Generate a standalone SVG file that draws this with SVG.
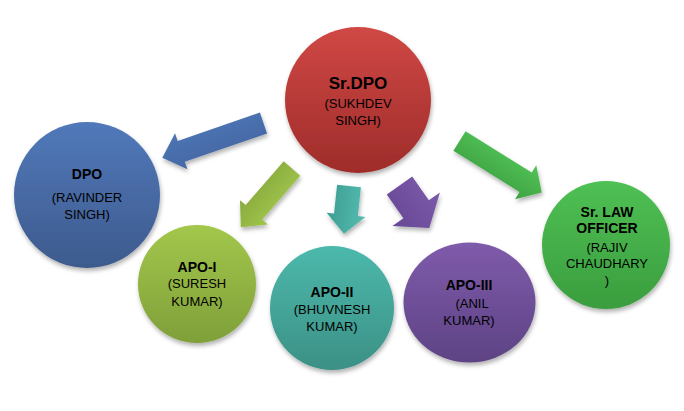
<svg xmlns="http://www.w3.org/2000/svg" width="684" height="411" viewBox="0 0 684 411">
<style>
.t{font-family:"Liberation Sans",Arial,sans-serif;fill:#000;text-anchor:middle}
.b{font-weight:bold;font-size:14px}
.n{font-size:13px}
</style>
<defs>
<filter id="sh" x="-20%" y="-20%" width="140%" height="140%">
<feDropShadow dx="1" dy="3" stdDeviation="2" flood-color="#000" flood-opacity="0.3"/>
</filter>
<linearGradient id="gRed" x1="0" y1="0" x2="0" y2="1"><stop offset="0" stop-color="#d04845"/><stop offset="1" stop-color="#9e2c2a"/></linearGradient>
<linearGradient id="gBlue" x1="0" y1="0" x2="0" y2="1"><stop offset="0" stop-color="#5179ba"/><stop offset="1" stop-color="#3d5a8d"/></linearGradient>
<linearGradient id="gYel" x1="0" y1="0" x2="0" y2="1"><stop offset="0" stop-color="#a3c74c"/><stop offset="1" stop-color="#7f9f39"/></linearGradient>
<linearGradient id="gTeal" x1="0" y1="0" x2="0" y2="1"><stop offset="0" stop-color="#4cb9ac"/><stop offset="1" stop-color="#3c9085"/></linearGradient>
<linearGradient id="gPur" x1="0" y1="0" x2="0" y2="1"><stop offset="0" stop-color="#7f5bab"/><stop offset="1" stop-color="#5d4384"/></linearGradient>
<linearGradient id="gGrn" x1="0" y1="0" x2="0" y2="1"><stop offset="0" stop-color="#4fc054"/><stop offset="1" stop-color="#3a9d3e"/></linearGradient>
<linearGradient id="aBlue" x1="0" y1="0" x2="0" y2="1"><stop offset="0" stop-color="#4568a4"/><stop offset="1" stop-color="#4d74b4"/></linearGradient>
<linearGradient id="aYel" x1="0" y1="0" x2="0" y2="1"><stop offset="0" stop-color="#a0c54b"/><stop offset="1" stop-color="#88aa3e"/></linearGradient>
<linearGradient id="aTeal" x1="0" y1="0" x2="0" y2="1"><stop offset="0" stop-color="#55bcb0"/><stop offset="1" stop-color="#3d9d93"/></linearGradient>
<linearGradient id="aPur" x1="0" y1="0" x2="0" y2="1"><stop offset="0" stop-color="#7c59aa"/><stop offset="1" stop-color="#664895"/></linearGradient>
<linearGradient id="aGrn" x1="0" y1="0" x2="0" y2="1"><stop offset="0" stop-color="#52c257"/><stop offset="1" stop-color="#3ea342"/></linearGradient>
</defs>
<rect width="684" height="411" fill="#fff"/>
<g id="connectors" filter="url(#sh)">
<polygon fill="url(#aBlue)" transform="translate(263.5,123) rotate(161)" points="0,-11 87,-11 87,-19 107,0 87,19 87,11 0,11"/>
<polygon fill="url(#aYel)" transform="translate(292,168.5) rotate(131)" points="0,-11 58,-11 58,-18.5 78,0 58,18.5 58,11 0,11"/>
<polygon fill="url(#aTeal)" transform="translate(349,186) rotate(96)" points="0,-12 29,-12 29,-19.5 48,0 29,19.5 29,12 0,12"/>
<polygon fill="url(#aPur)" transform="translate(399.5,185.5) rotate(55)" points="0,-15.5 29,-15.5 29,-29 52,0 29,29 29,15.5 0,15.5"/>
<polygon fill="url(#aGrn)" transform="translate(459.5,141) rotate(32)" points="0,-11.5 78,-11.5 78,-20 97,0 78,20 78,11.5 0,11.5"/>
</g>
<g id="srdpo">
<circle cx="358" cy="100" r="73" fill="url(#gRed)" filter="url(#sh)"/>
<text class="t" x="358" y="89" font-weight="bold" font-size="17px">Sr.DPO</text>
<text class="t n" x="358" y="108">(SUKHDEV</text>
<text class="t n" x="358" y="125">SINGH)</text>
</g>
<g id="dpo">
<circle cx="87" cy="195" r="73" fill="url(#gBlue)" filter="url(#sh)"/>
<text class="t b" x="87" y="179">DPO</text>
<text class="t n" x="87" y="202">(RAVINDER</text>
<text class="t n" x="87" y="219">SINGH)</text>
</g>
<g id="apo1">
<circle cx="197" cy="284" r="59" fill="url(#gYel)" filter="url(#sh)"/>
<text class="t b" x="197" y="272">APO-I</text>
<text class="t n" x="197" y="288">(SURESH</text>
<text class="t n" x="197" y="306">KUMAR)</text>
</g>
<g id="apo2">
<circle cx="332" cy="308" r="62" fill="url(#gTeal)" filter="url(#sh)"/>
<text class="t b" x="332" y="297">APO-II</text>
<text class="t n" x="332" y="314">(BHUVNESH</text>
<text class="t n" x="332" y="331">KUMAR)</text>
</g>
<g id="apo3">
<ellipse cx="469.5" cy="302.5" rx="66" ry="60" fill="url(#gPur)" filter="url(#sh)"/>
<text class="t b" x="469" y="290">APO-III</text>
<text class="t n" x="472" y="308">(ANIL</text>
<text class="t n" x="469" y="325">KUMAR)</text>
</g>
<g id="srlaw">
<circle cx="606" cy="245" r="64" fill="url(#gGrn)" filter="url(#sh)"/>
<text class="t b" x="607" y="217">Sr. LAW</text>
<text class="t b" x="607" y="233">OFFICER</text>
<text class="t n" x="607" y="252">(RAJIV</text>
<text class="t n" x="607" y="268">CHAUDHARY</text>
<text class="t n" x="607" y="285">)</text>
</g>
</svg>
